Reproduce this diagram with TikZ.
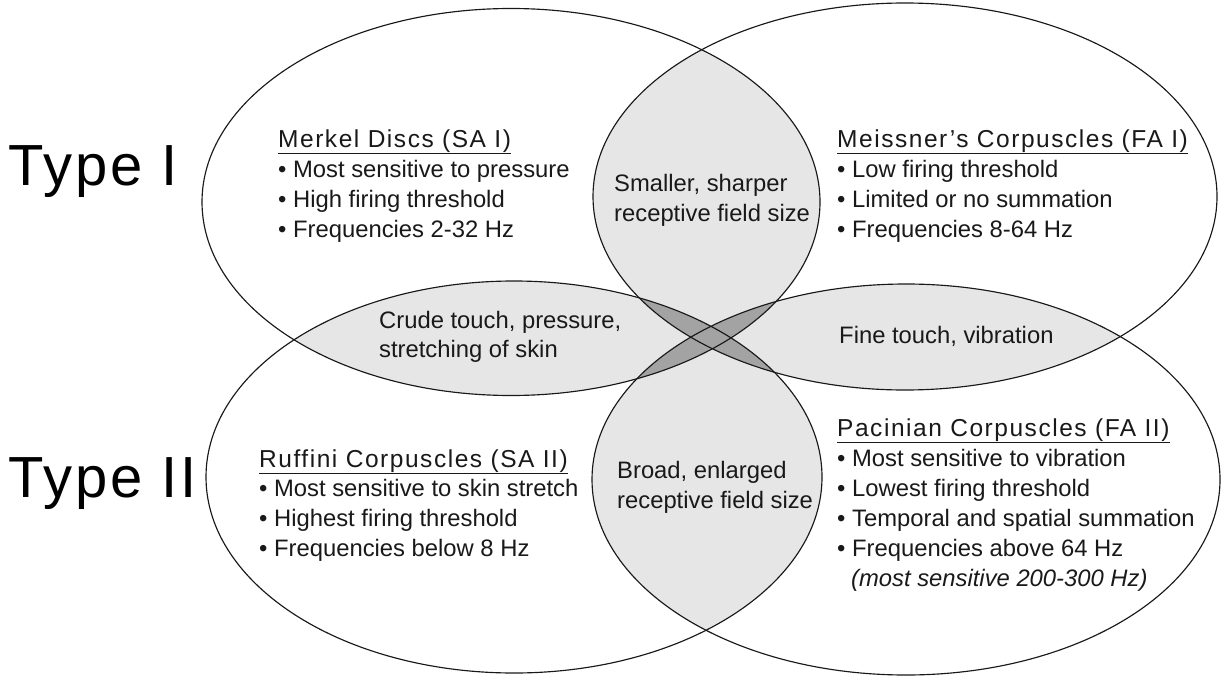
\documentclass[tikz,border=0pt]{standalone}
\usepackage{fontspec}
\setmainfont{Liberation Sans}
\definecolor{lightfill}{RGB}{230,230,230}
\definecolor{darkfill}{RGB}{163,163,163}
\definecolor{ink}{RGB}{25,25,25}
\def\TLell{(511,202) ellipse [x radius=309pt, y radius=193.5pt]}
\def\TRell{(905,196.5) ellipse [x radius=312pt, y radius=193.5pt]}
\def\BLell{(514,477) ellipse [x radius=308pt, y radius=196pt]}
\def\BRell{(906,479.5) ellipse [x radius=314pt, y radius=195.5pt]}
\begin{document}
\begin{tikzpicture}[x=1pt,y=-1pt,
  body/.style={anchor=base west, inner sep=0pt, text=ink, font=\fontsize{23.8}{28}\selectfont},
  title/.style={anchor=base west, inner sep=0pt, text=ink, font=\fontsize{24.5}{28}\selectfont\addfontfeature{LetterSpace=6.3}},
  typelabel/.style={anchor=base west, inner sep=0pt, text=black, font=\fontsize{58}{60}\selectfont\addfontfeature{LetterSpace=5}},
  outline/.style={draw=ink, line width=1.15pt}]
\useasboundingbox (0,0) rectangle (1225,677);
\fill[white] (0,0) rectangle (1225,677);
% pairwise overlaps (light)
\begin{scope}\clip \TLell; \fill[lightfill] \TRell; \fill[lightfill] \BLell; \end{scope}
\begin{scope}\clip \BRell; \fill[lightfill] \TRell; \fill[lightfill] \BLell; \end{scope}
% diagonal overlaps (dark)
\begin{scope}\clip \TLell; \fill[darkfill] \BRell; \end{scope}
\begin{scope}\clip \TRell; \fill[darkfill] \BLell; \end{scope}
% outlines
\path[outline] \TLell;
\path[outline] \TRell;
\path[outline] \BLell;
\path[outline] \BRell;
% type labels
\node[typelabel] (type1) at (8,185) {Type I};
\node[typelabel] (type2) at (8,497) {Type II};
% Merkel
\node[title] (merkelT) at (278,147) {\underline{Merkel Discs (SA I)}};
\node[body] (merkel1) at (278,177) {• Most sensitive to pressure};
\node[body] (merkel2) at (278,207) {• High firing threshold};
\node[body] (merkel3) at (278,237) {• Frequencies 2-32 Hz};
% Meissner
\node[title] (meissT) at (837,147) {\underline{Meissner’s Corpuscles (FA I)}};
\node[body] (meiss1) at (837,177) {• Low firing threshold};
\node[body] (meiss2) at (837,207) {• Limited or no summation};
\node[body] (meiss3) at (837,237) {• Frequencies 8-64 Hz};
% upper lens
\node[body] (small1) at (614,191) {Smaller, sharper};
\node[body] (small2) at (614,221) {receptive field size};
% left lens
\node[body] (crude1) at (379,328) {Crude touch, pressure,};
\node[body] (crude2) at (379,357) {stretching of skin};
% right lens
\node[body] (fine) at (839,343) {Fine touch, vibration};
% lower lens
\node[body] (broad1) at (617,478) {Broad, enlarged};
\node[body] (broad2) at (617,508) {receptive field size};
% Ruffini
\node[title] (ruffT) at (259,467) {\underline{Ruffini Corpuscles (SA II)}};
\node[body] (ruff1) at (259,496) {• Most sensitive to skin stretch};
\node[body] (ruff2) at (259,526) {• Highest firing threshold};
\node[body] (ruff3) at (259,556) {• Frequencies below 8 Hz};
% Pacinian
\node[title] (paciT) at (837,436) {\underline{Pacinian Corpuscles (FA II)}};
\node[body] (paci1) at (837,466) {• Most sensitive to vibration};
\node[body] (paci2) at (837,496) {• Lowest firing threshold};
\node[body] (paci3) at (837,526) {• Temporal and spatial summation};
\node[body] (paci4) at (837,556) {• Frequencies above 64 Hz};
\node[body] (paci5) at (851,586) {\itshape (most sensitive 200-300 Hz)};
\end{tikzpicture}
\end{document}
